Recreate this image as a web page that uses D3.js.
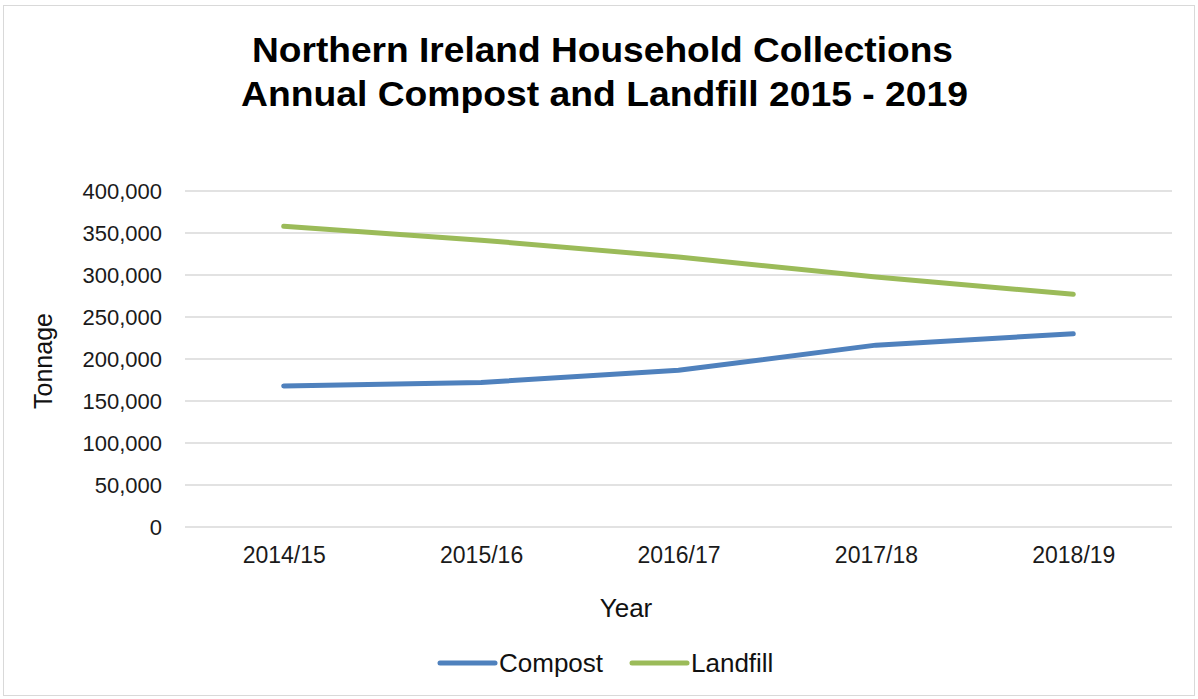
<!DOCTYPE html>
<html><head><meta charset="utf-8">
<script src="https://cdn.jsdelivr.net/npm/d3@7"></script>
<style>body{margin:0;background:#fff}svg{display:block;font-family:"Liberation Sans",Arial,sans-serif}</style>
</head><body><svg id="c" width="1198" height="699"></svg>
<script>
const years = ["2014/15","2015/16","2016/17","2017/18","2018/19"];
const compost = [168000,172000,186500,216500,230000];
const landfill = [358000,341500,321500,297500,277000];
const yTicks = [0,50000,100000,150000,200000,250000,300000,350000,400000];
const seriesNames = ["Compost","Landfill"];
const seriesColors = ["#4F81BD","#9BBB59"];

const svg = d3.select("#c");
svg.append("rect").attr("x",3.5).attr("y",5.5).attr("width",1191).attr("height",690)
  .attr("fill","#fff").attr("stroke","#D9D9D9").attr("stroke-width",1);

const L=185,R=1172,T=191,B=527;
const x = d3.scalePoint().domain(years).range([L,R]).padding(0.5);
const y = d3.scaleLinear().domain([0,400000]).range([B,T]);

svg.append("g").selectAll("line").data(yTicks).join("line")
  .attr("x1",L).attr("x2",R).attr("y1",d=>y(d)).attr("y2",d=>y(d))
  .attr("stroke","#D9D9D9").attr("stroke-width",1.5);

const yAxis = svg.append("g").attr("transform",`translate(${L},0)`)
  .call(d3.axisLeft(y).tickValues(yTicks).tickFormat(d3.format(",")).tickSize(0).tickPadding(23));
yAxis.select(".domain").remove();
yAxis.selectAll("text").attr("font-size",22).attr("fill","#1a1a1a").attr("font-family","Liberation Sans, Arial, sans-serif");

const xAxis = svg.append("g").attr("transform",`translate(0,${B})`)
  .call(d3.axisBottom(x).tickSize(0).tickPadding(20));
xAxis.select(".domain").remove();
xAxis.selectAll("text").attr("font-size",23).attr("fill","#1a1a1a").attr("font-family","Liberation Sans, Arial, sans-serif");

const data = [compost, landfill];
const line = d3.line().x((d,i)=>x(years[i])).y(d=>y(d));
data.forEach((s,k)=>{
  svg.append("path").datum(s).attr("d",line).attr("fill","none")
    .attr("stroke",seriesColors[k]).attr("stroke-width",5)
    .attr("stroke-linecap","round").attr("stroke-linejoin","round");
});

svg.append("text").attr("x",252).attr("y",62)
  .attr("font-size",35).attr("font-weight","bold").attr("fill","#000")
  .attr("textLength",701).attr("lengthAdjust","spacingAndGlyphs")
  .text("Northern Ireland Household Collections");
svg.append("text").attr("x",241).attr("y",106)
  .attr("font-size",35).attr("font-weight","bold").attr("fill","#000")
  .attr("textLength",727).attr("lengthAdjust","spacingAndGlyphs")
  .text("Annual Compost and Landfill 2015 - 2019");

svg.append("text").attr("x",626).attr("y",617).attr("text-anchor","middle")
  .attr("font-size",26).attr("fill","#111").text("Year");
svg.append("text").attr("transform","translate(52,361) rotate(-90)").attr("text-anchor","middle")
  .attr("font-size",25).attr("fill","#111").text("Tonnage");

const legX = [440,632];
seriesNames.forEach((n,k)=>{
  svg.append("line").attr("x1",legX[k]).attr("x2",legX[k]+55).attr("y1",663).attr("y2",663)
    .attr("stroke",seriesColors[k]).attr("stroke-width",5).attr("stroke-linecap","round");
  svg.append("text").attr("x",legX[k]+59).attr("y",672).attr("font-size",26).attr("fill","#111").text(n);
});
</script></body></html>
